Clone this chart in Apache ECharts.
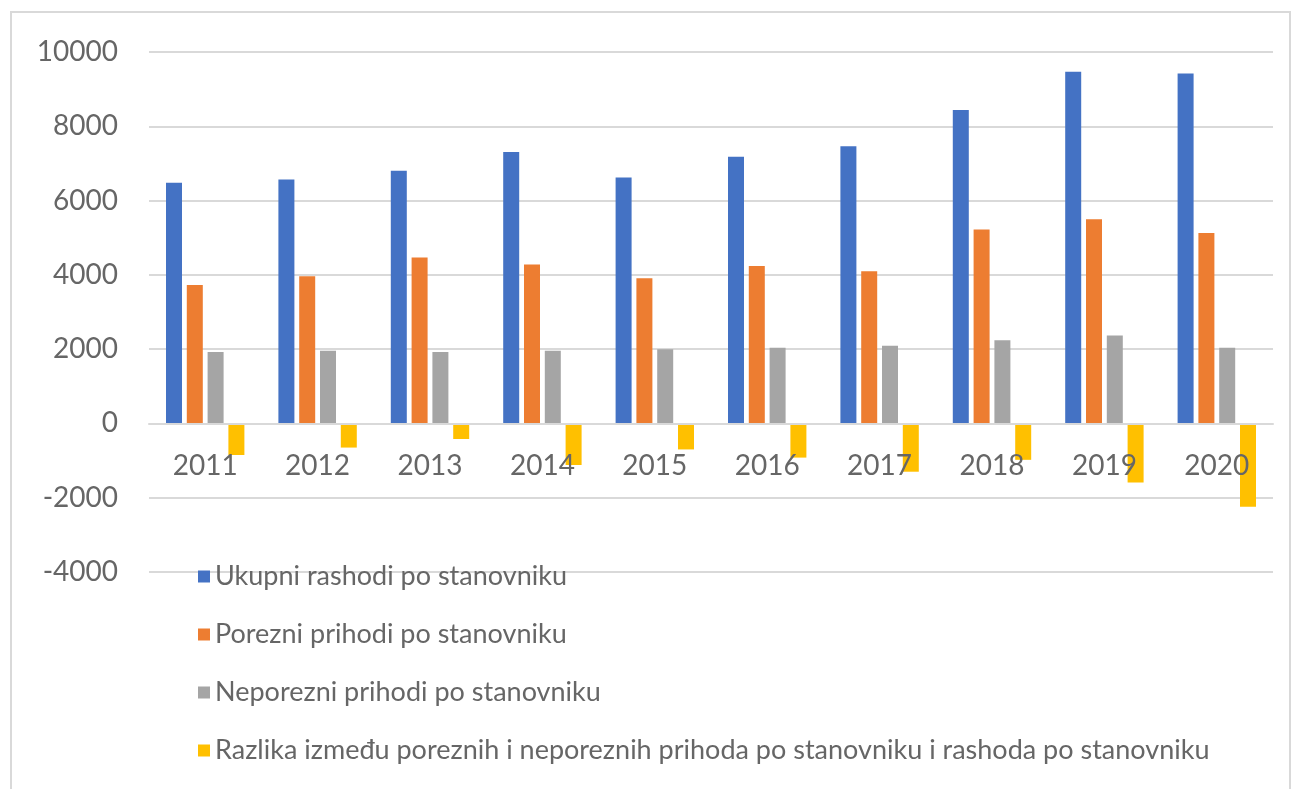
<!DOCTYPE html>
<html>
<head>
<meta charset="utf-8">
<script src="https://cdn.jsdelivr.net/npm/echarts@6/dist/echarts.min.js"></script>
<style>
html,body{margin:0;padding:0;background:#fff;}
#chart{width:1301px;height:789px;}
</style>
</head>
<body>
<div id="chart"></div>
<script>
const categories = ['2011','2012','2013','2014','2015','2016','2017','2018','2019','2020'];
const seriesNames = [
  'Ukupni rashodi po stanovniku',
  'Porezni prihodi po stanovniku',
  'Neporezni prihodi po stanovniku',
  'Razlika između poreznih i neporeznih prihoda po stanovniku i rashoda po stanovniku'
];
const ukupniRashodi = [6480, 6570, 6800, 7310, 6620, 7180, 7460, 8440, 9470, 9420];
const porezniPrihodi = [3730, 3960, 4470, 4280, 3910, 4240, 4100, 5220, 5500, 5130];
const neporezniPrihodi = [1920, 1960, 1920, 1960, 2000, 2040, 2090, 2240, 2370, 2040];
const razlika = [-850, -650, -420, -1120, -700, -920, -1300, -980, -1590, -2240];
const yTicks = { min: -4000, max: 10000, interval: 2000 };
const colors = ['#4472C4', '#ED7D31', '#A5A5A5', '#FFC000'];

const values = [ukupniRashodi, porezniPrihodi, neporezniPrihodi, razlika];
const chart = echarts.init(document.getElementById('chart'), null, {renderer: 'canvas'});
const font = 'Lato, "Open Sans", sans-serif';
const gridTop = 52, gridBottom = 217, chartH = 789;
const plotH = chartH - gridTop - gridBottom;
// place category axis at the zero value
const zeroOffset = -plotH * (0 - yTicks.min) / (yTicks.max - yTicks.min);
chart.setOption({
  animation: false,
  color: colors,
  graphic: [{
    type: 'rect', z: -1,
    shape: {x: 11, y: 12, width: 1279, height: 800},
    style: {fill: 'none', stroke: '#d9d9d9', lineWidth: 2}
  }],
  grid: {left: 149, right: 28, top: gridTop, bottom: gridBottom, containLabel: false},
  legend: {
    orient: 'vertical',
    left: 193, top: 558,
    itemWidth: 12, itemHeight: 12,
    itemGap: 31,
    icon: 'rect',
    textStyle: {fontFamily: font, fontSize: 27, color: '#666666', lineHeight: 25},
    data: seriesNames
  },
  xAxis: {
    type: 'category',
    data: categories,
    offset: zeroOffset,
    z: 10,
    axisLine: {show: true, onZero: false, lineStyle: {color: '#d9d9d9', width: 2}},
    axisTick: {show: false},
    axisLabel: {fontFamily: font, fontSize: 28, color: '#666666', margin: 29}
  },
  yAxis: {
    type: 'value',
    min: yTicks.min, max: yTicks.max, interval: yTicks.interval,
    axisLine: {show: false},
    axisTick: {show: false},
    axisLabel: {fontFamily: font, fontSize: 28, color: '#666666', margin: 31,
      formatter: v => String(v)},
    splitLine: {lineStyle: {color: '#d9d9d9', width: 2}}
  },
  series: seriesNames.map((name, i) => ({
    name: name,
    type: 'bar',
    data: values[i],
    barWidth: 16,
    barGap: '30%',
    itemStyle: {color: colors[i]}
  }))
});
</script>
</body>
</html>
